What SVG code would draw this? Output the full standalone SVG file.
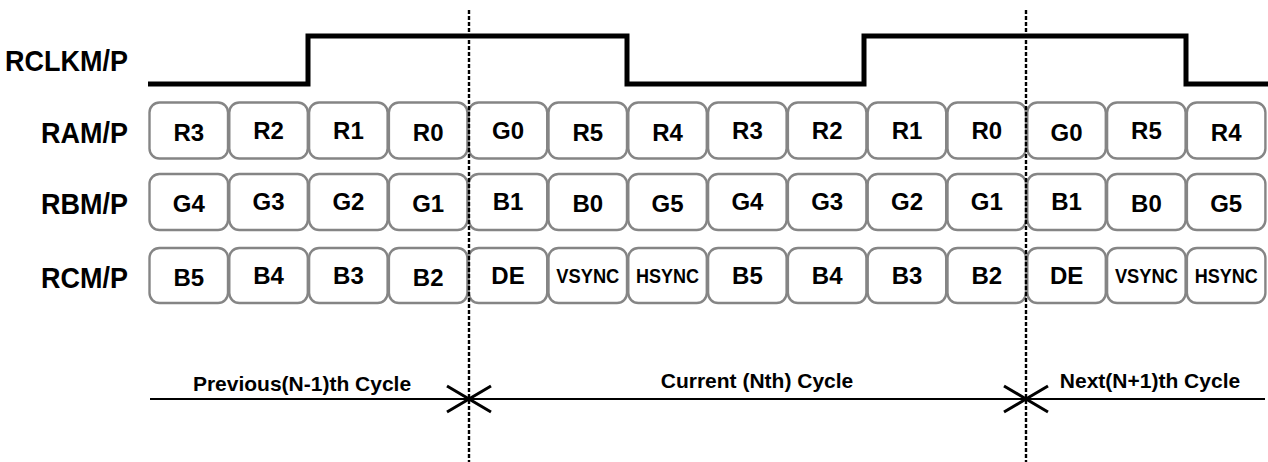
<svg xmlns="http://www.w3.org/2000/svg" width="1268" height="462" viewBox="0 0 1268 462">
<style>
  .lbl { font-family: "Liberation Sans", Arial, sans-serif; font-weight: bold; font-size: 27px; fill: #000; text-anchor: end; }
  .box { fill: #fff; stroke: #858585; stroke-width: 2.4; }
  .bt { font-family: "Liberation Sans", Arial, sans-serif; font-weight: bold; font-size: 24px; fill: #000; text-anchor: middle; }
  .st { font-family: "Liberation Sans", Arial, sans-serif; font-weight: bold; font-size: 21px; fill: #000; text-anchor: middle; }
  .cyc { font-family: "Liberation Sans", Arial, sans-serif; font-weight: bold; font-size: 21px; fill: #000; text-anchor: middle; }
  .clk { fill: none; stroke: #000; stroke-width: 5; }
  .dash { stroke: #000; stroke-width: 2.4; stroke-dasharray: 4 2; }
  .axis { stroke: #000; stroke-width: 2.2; fill: none; }
  .xm { stroke: #000; stroke-width: 3; fill: none; }
</style>
<rect x="0" y="0" width="1268" height="462" fill="#fff"/>

<g id="labels">
  <text class="lbl" transform="translate(128,71) scale(1,1.1)">RCLKM/P</text>
  <text class="lbl" transform="translate(128,143) scale(1,1.12)">RAM/P</text>
  <text class="lbl" transform="translate(128,214) scale(1,1.12)">RBM/P</text>
  <text class="lbl" transform="translate(128,288) scale(1,1.12)">RCM/P</text>
</g>

<g id="clock">
  <path class="clk" d="M148 84 H308 V36 H627 V84 H864 V36 H1186 V84 H1268"/>
</g>

<g id="row-ram">
  <rect class="box" x="149.5" y="102.5" width="78.5" height="56" rx="10"/>
  <rect class="box" x="229.3" y="102.5" width="78.5" height="56" rx="10"/>
  <rect class="box" x="309.1" y="102.5" width="78.5" height="56" rx="10"/>
  <rect class="box" x="388.9" y="102.5" width="78.5" height="56" rx="10"/>
  <rect class="box" x="468.7" y="102.5" width="78.5" height="56" rx="10"/>
  <rect class="box" x="548.5" y="102.5" width="78.5" height="56" rx="10"/>
  <rect class="box" x="628.3" y="102.5" width="78.5" height="56" rx="10"/>
  <rect class="box" x="708.1" y="102.5" width="78.5" height="56" rx="10"/>
  <rect class="box" x="787.9" y="102.5" width="78.5" height="56" rx="10"/>
  <rect class="box" x="867.7" y="102.5" width="78.5" height="56" rx="10"/>
  <rect class="box" x="947.5" y="102.5" width="78.5" height="56" rx="10"/>
  <rect class="box" x="1027.3" y="102.5" width="78.5" height="56" rx="10"/>
  <rect class="box" x="1107.1" y="102.5" width="78.5" height="56" rx="10"/>
  <rect class="box" x="1186.9" y="102.5" width="78.5" height="56" rx="10"/>
  <text class="bt" x="188.8" y="141">R3</text>
  <text class="bt" x="268.6" y="139">R2</text>
  <text class="bt" x="348.4" y="139">R1</text>
  <text class="bt" x="428.2" y="141">R0</text>
  <text class="bt" x="508" y="139">G0</text>
  <text class="bt" x="587.8" y="141">R5</text>
  <text class="bt" x="667.6" y="141">R4</text>
  <text class="bt" x="747.4" y="139">R3</text>
  <text class="bt" x="827.2" y="139">R2</text>
  <text class="bt" x="907" y="139">R1</text>
  <text class="bt" x="986.8" y="139">R0</text>
  <text class="bt" x="1066.6" y="141">G0</text>
  <text class="bt" x="1146.4" y="139">R5</text>
  <text class="bt" x="1226.2" y="141">R4</text>
</g>

<g id="row-rbm">
  <rect class="box" x="149.5" y="174" width="78.5" height="56" rx="10"/>
  <rect class="box" x="229.3" y="174" width="78.5" height="56" rx="10"/>
  <rect class="box" x="309.1" y="174" width="78.5" height="56" rx="10"/>
  <rect class="box" x="388.9" y="174" width="78.5" height="56" rx="10"/>
  <rect class="box" x="468.7" y="174" width="78.5" height="56" rx="10"/>
  <rect class="box" x="548.5" y="174" width="78.5" height="56" rx="10"/>
  <rect class="box" x="628.3" y="174" width="78.5" height="56" rx="10"/>
  <rect class="box" x="708.1" y="174" width="78.5" height="56" rx="10"/>
  <rect class="box" x="787.9" y="174" width="78.5" height="56" rx="10"/>
  <rect class="box" x="867.7" y="174" width="78.5" height="56" rx="10"/>
  <rect class="box" x="947.5" y="174" width="78.5" height="56" rx="10"/>
  <rect class="box" x="1027.3" y="174" width="78.5" height="56" rx="10"/>
  <rect class="box" x="1107.1" y="174" width="78.5" height="56" rx="10"/>
  <rect class="box" x="1186.9" y="174" width="78.5" height="56" rx="10"/>
  <text class="bt" x="188.8" y="212">G4</text>
  <text class="bt" x="268.6" y="210">G3</text>
  <text class="bt" x="348.4" y="210">G2</text>
  <text class="bt" x="428.2" y="212">G1</text>
  <text class="bt" x="508" y="210">B1</text>
  <text class="bt" x="587.8" y="212">B0</text>
  <text class="bt" x="667.6" y="212">G5</text>
  <text class="bt" x="747.4" y="210">G4</text>
  <text class="bt" x="827.2" y="210">G3</text>
  <text class="bt" x="907" y="210">G2</text>
  <text class="bt" x="986.8" y="210">G1</text>
  <text class="bt" x="1066.6" y="210">B1</text>
  <text class="bt" x="1146.4" y="212">B0</text>
  <text class="bt" x="1226.2" y="212">G5</text>
</g>

<g id="row-rcm">
  <rect class="box" x="149.5" y="248" width="78.5" height="55" rx="10"/>
  <rect class="box" x="229.3" y="248" width="78.5" height="55" rx="10"/>
  <rect class="box" x="309.1" y="248" width="78.5" height="55" rx="10"/>
  <rect class="box" x="388.9" y="248" width="78.5" height="55" rx="10"/>
  <rect class="box" x="468.7" y="248" width="78.5" height="55" rx="10"/>
  <rect class="box" x="548.5" y="248" width="78.5" height="55" rx="10"/>
  <rect class="box" x="628.3" y="248" width="78.5" height="55" rx="10"/>
  <rect class="box" x="708.1" y="248" width="78.5" height="55" rx="10"/>
  <rect class="box" x="787.9" y="248" width="78.5" height="55" rx="10"/>
  <rect class="box" x="867.7" y="248" width="78.5" height="55" rx="10"/>
  <rect class="box" x="947.5" y="248" width="78.5" height="55" rx="10"/>
  <rect class="box" x="1027.3" y="248" width="78.5" height="55" rx="10"/>
  <rect class="box" x="1107.1" y="248" width="78.5" height="55" rx="10"/>
  <rect class="box" x="1186.9" y="248" width="78.5" height="55" rx="10"/>
  <text class="bt" x="188.8" y="286">B5</text>
  <text class="bt" x="268.6" y="284">B4</text>
  <text class="bt" x="348.4" y="284">B3</text>
  <text class="bt" x="428.2" y="286">B2</text>
  <text class="bt" x="508" y="284">DE</text>
  <text class="st" x="587.8" y="283" textLength="63" lengthAdjust="spacingAndGlyphs">VSYNC</text>
  <text class="st" x="667.6" y="283" textLength="63" lengthAdjust="spacingAndGlyphs">HSYNC</text>
  <text class="bt" x="747.4" y="284">B5</text>
  <text class="bt" x="827.2" y="284">B4</text>
  <text class="bt" x="907" y="284">B3</text>
  <text class="bt" x="986.8" y="284">B2</text>
  <text class="bt" x="1066.6" y="284">DE</text>
  <text class="st" x="1146.4" y="283" textLength="63" lengthAdjust="spacingAndGlyphs">VSYNC</text>
  <text class="st" x="1226.2" y="283" textLength="63" lengthAdjust="spacingAndGlyphs">HSYNC</text>
</g>

<g id="connectors">
  <line class="dash" x1="469" y1="10" x2="469" y2="462"/>
  <line class="dash" x1="1026" y1="10" x2="1026" y2="462"/>
  <line class="axis" x1="150" y1="399" x2="1265" y2="399"/>
  <path class="xm" d="M447 386 L469 399 L447 412"/>
  <path class="xm" d="M491 386 L469 399 L491 412"/>
  <path class="xm" d="M1004 386 L1026 399 L1004 412"/>
  <path class="xm" d="M1048 386 L1026 399 L1048 412"/>
</g>

<g id="cycle-labels">
  <text class="cyc" x="302" y="391">Previous(N-1)th Cycle</text>
  <text class="cyc" x="757" y="388">Current (Nth) Cycle</text>
  <text class="cyc" x="1150" y="388">Next(N+1)th Cycle</text>
</g>
</svg>
